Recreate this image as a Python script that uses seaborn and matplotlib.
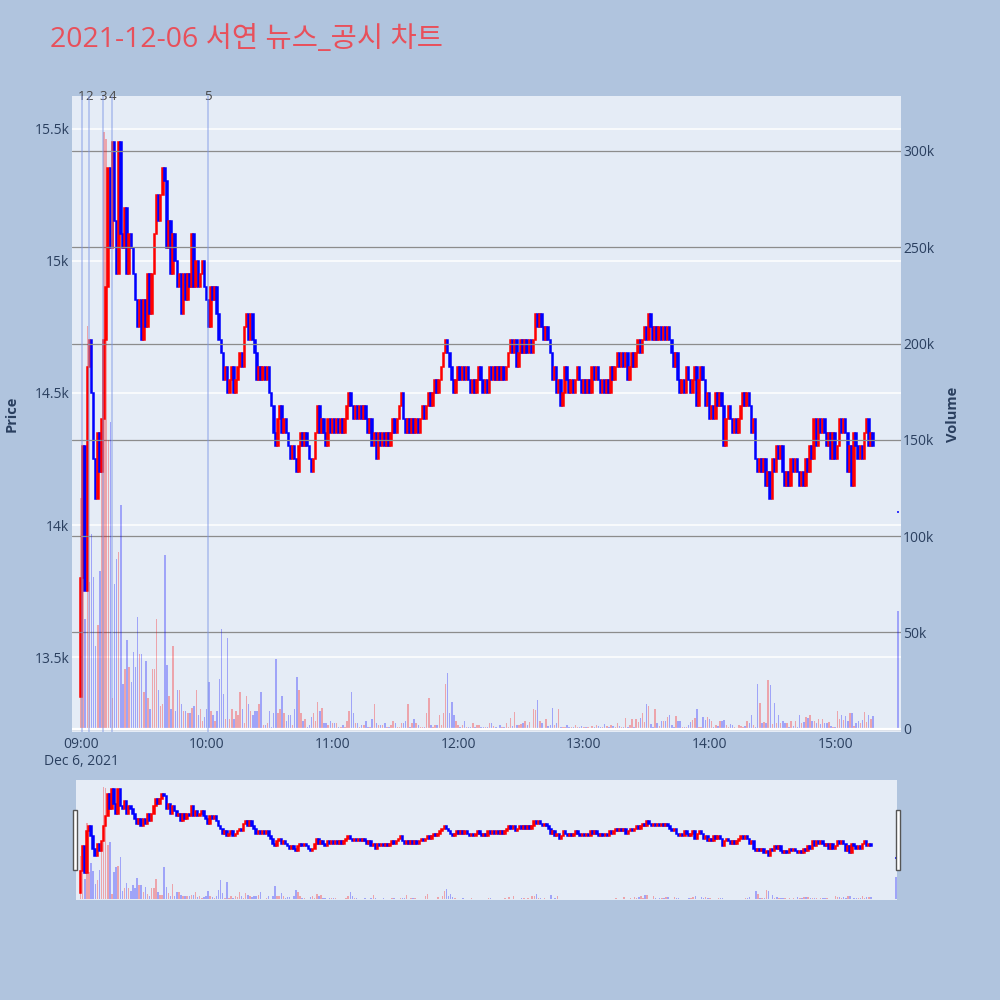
import matplotlib
matplotlib.use("Agg")
import matplotlib.pyplot as plt
from matplotlib.patches import Rectangle
from matplotlib.transforms import blended_transform_factory
import numpy as np
import pandas as pd
import seaborn as sns

title = "2021-12-06 서연 뉴스_공시 차트"
session_date = "2021-12-06"
session_start = "2021-12-06 09:00"
first_open = 13350

# 1분봉 종가 09:00 ~ 15:18 (한 줄에 10분)
closes = [
    13800, 14300, 13750, 14600, 14700, 14500, 14250, 14100, 14350, 14200,
    14400, 14700, 14900, 15350, 15050, 15450, 15150, 14950, 15450, 15100,
    15050, 15200, 14950, 15100, 15050, 14950, 14850, 14750, 14850, 14700,
    14850, 14750, 14950, 14800, 14950, 15100, 15250, 15150, 15250, 15350,
    15300, 15050, 15150, 14950, 15100, 15000, 14900, 14950, 14800, 14950,
    14850, 14950, 14900, 15100, 14900, 15000, 14900, 14950, 15000, 14900,
    14850, 14750, 14900, 14850, 14900, 14800, 14700, 14650, 14550, 14600,
    14500, 14550, 14600, 14500, 14550, 14600, 14650, 14600, 14750, 14800,
    14700, 14800, 14700, 14650, 14550, 14600, 14550, 14600, 14550, 14600,
    14500, 14450, 14350, 14300, 14400, 14450, 14350, 14400, 14350, 14300,
    14250, 14300, 14250, 14200, 14300, 14350, 14300, 14350, 14300, 14250,
    14200, 14250, 14350, 14450, 14350, 14400, 14350, 14300, 14400, 14350,
    14400, 14350, 14400, 14350, 14400, 14350, 14400, 14450, 14500, 14450,
    14400, 14450, 14400, 14450, 14400, 14450, 14400, 14350, 14400, 14300,
    14350, 14250, 14350, 14300, 14350, 14300, 14350, 14300, 14350, 14400,
    14350, 14400, 14450, 14500, 14400, 14350, 14400, 14350, 14400, 14350,
    14400, 14350, 14400, 14450, 14400, 14450, 14500, 14450, 14500, 14550,
    14500, 14550, 14600, 14650, 14700, 14650, 14600, 14550, 14500, 14550,
    14600, 14550, 14600, 14550, 14600, 14550, 14500, 14550, 14500, 14550,
    14600, 14550, 14500, 14550, 14500, 14600, 14550, 14600, 14550, 14600,
    14550, 14600, 14550, 14600, 14650, 14700, 14650, 14700, 14600, 14650,
    14700, 14650, 14700, 14650, 14700, 14650, 14700, 14800, 14750, 14800,
    14750, 14700, 14750, 14700, 14650, 14550, 14600, 14500, 14550, 14450,
    14500, 14600, 14550, 14500, 14550, 14500, 14550, 14600, 14550, 14500,
    14550, 14500, 14550, 14500, 14600, 14550, 14600, 14550, 14500, 14550,
    14500, 14550, 14500, 14600, 14550, 14600, 14650, 14600, 14650, 14600,
    14650, 14550, 14600, 14650, 14600, 14650, 14700, 14650, 14700, 14750,
    14700, 14800, 14750, 14700, 14750, 14700, 14750, 14700, 14750, 14700,
    14750, 14700, 14650, 14600, 14650, 14550, 14500, 14550, 14500, 14600,
    14550, 14500, 14550, 14600, 14450, 14550, 14600, 14550, 14450, 14500,
    14400, 14450, 14400, 14500, 14450, 14500, 14450, 14300, 14400, 14450,
    14400, 14350, 14400, 14350, 14400, 14450, 14500, 14450, 14500, 14450,
    14350, 14400, 14250, 14200, 14250, 14200, 14250, 14150, 14200, 14100,
    14250, 14200, 14300, 14250, 14300, 14200, 14150, 14200, 14150, 14250,
    14200, 14250, 14200, 14150, 14200, 14150, 14250, 14200, 14300, 14250,
    14400, 14300, 14400, 14350, 14400, 14350, 14300, 14350, 14250, 14350,
    14250, 14300, 14400, 14350, 14400, 14350, 14200, 14300, 14150, 14350,
    14300, 14250, 14300, 14250, 14350, 14400, 14300, 14350, 14300,
]

# 1분 거래량 (천 주)
volumes_k = [
    120, 93, 57, 209, 76, 101, 79, 43, 54, 82,
    159, 310, 306, 150, 159, 16, 75, 88, 92, 116,
    23, 31, 46, 32, 24, 40, 32, 58, 39, 39,
    19, 35, 16, 10, 31, 31, 57, 20, 12, 13,
    90, 33, 17, 10, 43, 9, 20, 20, 13, 9,
    9, 8, 8, 11, 12, 20, 7, 10, 4, 6,
    10, 24, 9, 7, 4, 9, 26, 52, 18, 5,
    47, 5, 10, 5, 9, 7, 19, 10, 3, 17,
    13, 9, 7, 9, 9, 13, 19, 2, 2, 3,
    9, 1, 8, 36, 8, 10, 17, 8, 4, 7,
    7, 2, 10, 27, 20, 8, 4, 5, 1, 2,
    6, 8, 4, 14, 9, 11, 3, 3, 2, 4,
    3, 3, 3, 1, 1, 2, 1, 4, 9, 19,
    8, 3, 3, 1, 2, 2, 4, 1, 1, 5,
    13, 3, 2, 2, 2, 3, 1, 1, 2, 4,
    3, 1, 1, 3, 3, 4, 13, 1, 3, 5,
    3, 2, 1, 1, 1, 8, 16, 2, 1, 2,
    2, 7, 2, 8, 23, 29, 8, 14, 7, 4,
    2, 1, 2, 4, 1, 1, 1, 3, 1, 2,
    2, 1, 1, 1, 1, 3, 3,
    1.4, 0.7, 0.5, 1.9, 0.7, 0.7, 2.8, 0.7, 5.4, 1.4,
    8.7, 1.7, 1.9, 2.4, 2.9, 4.0, 1.9, 3.3, 0.5, 10.4,
    9.9, 14.9, 3.8, 2.8, 0.5, 4.8, 1.4, 1.9, 11.0, 1.7,
    2.8, 10.2, 0.7, 0.7, 0.7, 1.9, 1.0, 0.7, 0.7, 1.9,
    0.7, 1.0, 1.4, 0.7, 0.7, 0.7, 0.5, 1.4, 0.7, 1.9,
    1.4, 1.0, 0.7, 2.4, 1.4, 0.7, 1.9, 1.4, 0.7, 3.1,
    1.4, 0.7, 0.7, 5.4, 0.7, 1.9, 4.8, 0.7, 5.2, 3.6,
    5.4, 8.3, 3.6, 12.6, 11.8, 2.2, 0.7, 10.0, 3.1, 1.4,
    4.2, 3.8, 4.2, 5.9, 7.3, 1.9, 1.0, 6.6, 3.8, 3.8,
    0.7, 0.7, 0.7, 1.7, 3.3, 4.5, 5.4, 10.4, 1.0, 1.0,
    6.2, 4.5, 6.2, 5.0, 4.2, 0.7, 1.9, 1.4, 4.2, 3.8,
    4.5, 1.9, 1.0, 2.2, 1.9, 0.7, 0.5, 1.9, 1.4, 0.7,
    1.4, 4.0, 2.8, 6.9, 1.7, 0.7, 23.0, 13.5, 2.8, 3.6,
    3.1, 25.4, 22.8, 2.4, 13.2, 2.8, 6.9, 3.1, 4.2, 2.8,
    3.1, 0.7, 3.8, 1.4, 3.8, 0.7, 7.3, 2.8, 3.5, 6.2,
    5.5, 6.9, 4.2, 3.8, 2.8, 4.8, 2.4, 5.0, 2.8, 2.8,
    3.5, 1.4, 0.7, 0.7, 9.0, 5.2, 6.9, 4.5, 6.6, 4.2,
    8.0, 8.0, 1.4, 2.8, 3.8, 3.1, 4.5, 8.7, 3.6, 7.3,
    5.2, 6.8,
]

# 장 마감 동시호가
auction_time = "2021-12-06 15:30"
auction_price = 14050
auction_volume_k = 61

news_times = ["09:00:20", "09:03:48", "09:10:24", "09:15:00", "10:00:36"]
news_labels = ["1", "2", "3", "4", "5"]

price_ticks = [13500, 14000, 14500, 15000, 15500]
price_labels = ["13.5k", "14k", "14.5k", "15k", "15.5k"]
volume_ticks = [0, 50000, 100000, 150000, 200000, 250000, 300000]
volume_labels = ["0", "50k", "100k", "150k", "200k", "250k", "300k"]
hour_ticks = ["09:00", "10:00", "11:00", "12:00", "13:00", "14:00", "15:00"]

UP = "#ff0000"
DOWN = "#0000ff"
TEXT = "#2a3f5f"
PLOT_BG = "#e5ecf6"
PAPER_BG = "#b0c4de"

sns.set_theme(style="darkgrid", rc={"axes.facecolor": PLOT_BG})
plt.rcParams["font.family"] = ["Open Sans", "Noto Sans CJK KR", "DejaVu Sans"]

start = pd.Timestamp(session_start)
one_min = pd.Timedelta(minutes=1)
times = list(pd.date_range(start, periods=len(closes), freq="min"))
times.append(pd.Timestamp(auction_time))

df = pd.DataFrame({
    "time": times,
    "open": [first_open] + closes[:-1] + [auction_price],
    "close": closes + [auction_price],
    "volume": np.array(volumes_k + [auction_volume_k]) * 1000,
})
df["minute"] = ((df["time"] - start) / one_min).round().astype(int)
df["dir"] = np.where(df["close"] > df["open"], "up", "down")
df["lo"] = df[["open", "close"]].min(axis=1)
df["hi"] = df[["open", "close"]].max(axis=1)
df["color"] = df["dir"].map({"up": UP, "down": DOWN})

PRICE_LIM = (13218, 15623)
VOL_LIM = (-1700, 328500)


def draw_panel(ax, axv):
    # 캔들 몸통 (시간 순서대로 겹쳐 그림)
    ax.bar(df["minute"], df["hi"] - df["lo"], bottom=df["lo"],
           width=0.75, color=df["color"], edgecolor=df["color"], linewidth=1.1)
    # 거래량
    sns.histplot(data=df, x="minute", weights="volume", hue="dir",
                 hue_order=["up", "down"], palette={"up": UP, "down": DOWN},
                 discrete=True, shrink=0.7, alpha=0.3, linewidth=0,
                 legend=False, ax=axv)
    ax.set_ylim(*PRICE_LIM)
    axv.set_ylim(*VOL_LIM)
    for a in (ax, axv):
        for s in a.spines.values():
            s.set_visible(False)


fig = plt.figure(figsize=(10, 10), dpi=100, facecolor=PAPER_BG)

ax = fig.add_axes([0.072, 0.268, 0.829, 0.636])
ax.set_facecolor(PLOT_BG)
axv = ax.twinx()
draw_panel(ax, axv)
ax.set_xlim(-4.3, 391.4)

ax.grid(False)
ax.yaxis.grid(True, color="white", linewidth=1.1)
ax.set_axisbelow(True)
axv.grid(False)
axv.yaxis.grid(True, color="#8c8c8c", linewidth=0.9)
axv.axhline(0, color="white", linewidth=1.6)

hour_pos = [(pd.Timestamp(f"{session_date} {h}") - start) / one_min for h in hour_ticks]
hour_text = [hour_ticks[0] + "\nDec 6, 2021"] + hour_ticks[1:]
ax.set_xticks(hour_pos, hour_text)
ax.set_yticks(price_ticks, price_labels)
axv.set_yticks(volume_ticks, volume_labels)
ax.tick_params(axis="x", length=0, pad=3.5, labelsize=10, colors=TEXT)
ax.tick_params(axis="y", length=0, pad=2, labelsize=10, colors=TEXT)
axv.tick_params(axis="y", length=0, pad=1.5, labelsize=10, colors=TEXT)
ax.set_xlabel("")
ax.set_ylabel("Price", fontsize=10.5, fontweight="bold", color=TEXT)
ax.yaxis.set_label_coords(-0.064, 0.5)
axv.set_ylabel("Volume", fontsize=10.5, fontweight="bold", color=TEXT)
axv.yaxis.set_label_coords(1.054, 0.5)

# 뉴스/공시 시각
trans = blended_transform_factory(ax.transData, ax.transAxes)
for t, lab in zip(news_times, news_labels):
    m = (pd.Timestamp(f"{session_date} {t}") - start) / one_min
    axv.axvline(m, color="#7d97e6", alpha=0.45, linewidth=1.4, zorder=5)
    ax.text(m, 1.0, lab, transform=trans, ha="center", va="center",
            fontsize=9.5, color="#444444", clip_on=False)

# 레인지 슬라이더
axs = fig.add_axes([0.076, 0.100, 0.821, 0.120])
axs.set_facecolor(PLOT_BG)
axsv = axs.twinx()
draw_panel(axs, axsv)
axs.set_xlim(-2.2, 390.5)
for a in (axs, axsv):
    a.grid(False)
    a.set_xticks([])
    a.set_yticks([])
    a.set_xlabel("")
    a.set_ylabel("")

for x0 in (0.0733, 0.8955):
    fig.patches.append(Rectangle((x0, 0.130), 0.004, 0.060, transform=fig.transFigure,
                                 facecolor="white", edgecolor="#555555", linewidth=1))

fig.text(0.05, 0.960, title, fontsize=20.5, color="#e8505b", ha="left", va="center",
         family=["Open Sans", "Noto Sans CJK KR"])

fig.savefig("out.png", dpi=100, facecolor=PAPER_BG)
plt.close(fig)
